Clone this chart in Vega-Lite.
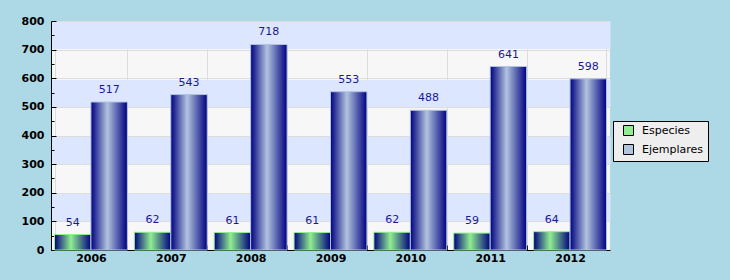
{
  "$schema": "https://vega.github.io/schema/vega-lite/v6.json",
  "width": 559,
  "height": 229,
  "autosize": {"type": "none"},
  "padding": {"left": 51, "top": 21, "right": 120, "bottom": 30},
  "background": "#add8e6",
  "config": {
    "font": "DejaVu Sans",
    "view": {"fill": "#f7f7f7", "stroke": null}
  },
  "data": {
    "values": [
      {"year": "2006", "series": "Especies", "value": 54},
      {"year": "2006", "series": "Ejemplares", "value": 517},
      {"year": "2007", "series": "Especies", "value": 62},
      {"year": "2007", "series": "Ejemplares", "value": 543},
      {"year": "2008", "series": "Especies", "value": 61},
      {"year": "2008", "series": "Ejemplares", "value": 718},
      {"year": "2009", "series": "Especies", "value": 61},
      {"year": "2009", "series": "Ejemplares", "value": 553},
      {"year": "2010", "series": "Especies", "value": 62},
      {"year": "2010", "series": "Ejemplares", "value": 488},
      {"year": "2011", "series": "Especies", "value": 59},
      {"year": "2011", "series": "Ejemplares", "value": 641},
      {"year": "2012", "series": "Especies", "value": 64},
      {"year": "2012", "series": "Ejemplares", "value": 598}
    ]
  },
  "encoding": {
    "x": {
      "field": "year",
      "type": "nominal",
      "title": null,
      "scale": {"paddingInner": 0.0875, "paddingOuter": 0.044},
      "axis": {
        "labelAngle": 0,
        "labelFont": "DejaVu Sans",
        "labelFontWeight": "bold",
        "labelFontSize": 11,
        "labelColor": "#000000",
        "labelPadding": 7,
        "tickBand": "extent",
        "tickSize": -5,
        "tickColor": "#000000",
        "domainColor": "#000000",
        "grid": true,
        "gridColor": "#dddddd"
      }
    },
    "xOffset": {
      "field": "series",
      "sort": ["Especies", "Ejemplares"],
      "scale": {"paddingInner": 0, "paddingOuter": 0}
    },
    "y": {
      "field": "value",
      "type": "quantitative",
      "title": null,
      "scale": {"domain": [0, 800], "nice": false},
      "axis": {
        "values": [0, 50, 100, 150, 200, 250, 300, 350, 400, 450, 500, 550, 600, 650, 700, 750, 800],
        "labelExpr": "datum.value % 100 === 0 ? datum.label : ''",
        "labelFont": "DejaVu Sans",
        "labelFontWeight": "bold",
        "labelFontSize": 11,
        "labelColor": "#000000",
        "labelPadding": 12,
        "tickSize": {"condition": {"test": "datum.value % 100 === 50", "value": -3}, "value": -5},
        "tickColor": "#000000",
        "domainColor": "#000000",
        "grid": true,
        "gridColor": {"condition": {"test": "datum.value % 200 === 150", "value": "#dde6ff"}, "value": "#dddddd"},
        "gridWidth": {"condition": [
          {"test": "datum.value % 200 === 150", "value": 27},
          {"test": "datum.value % 100 === 50", "value": 0}
        ], "value": 1}
      }
    }
  },
  "layer": [
    {
      "transform": [{"filter": "datum.series === 'Especies'"}],
      "mark": {
        "type": "bar",
        "stroke": "#90ee90",
        "strokeWidth": 1,
        "fill": {
          "gradient": "linear",
          "x1": 0, "x2": 1, "y1": 0, "y2": 0,
          "stops": [
            {"offset": 0, "color": "#000080"},
            {"offset": 0.45, "color": "#90ee90"},
            {"offset": 1, "color": "#000080"}
          ]
        }
      }
    },
    {
      "transform": [{"filter": "datum.series === 'Ejemplares'"}],
      "mark": {
        "type": "bar",
        "stroke": "#b0c4de",
        "strokeWidth": 1,
        "fill": {
          "gradient": "linear",
          "x1": 0, "x2": 1, "y1": 0, "y2": 0,
          "stops": [
            {"offset": 0, "color": "#000080"},
            {"offset": 0.45, "color": "#b0c4de"},
            {"offset": 1, "color": "#000080"}
          ]
        }
      }
    },
    {
      "mark": {"type": "text", "baseline": "alphabetic", "dy": -9, "fontSize": 11, "color": "#1a1a90", "font": "DejaVu Sans"},
      "encoding": {"text": {"field": "value", "type": "quantitative"}}
    },
    {
      "mark": {"type": "square", "opacity": 0, "size": 1},
      "encoding": {
        "fill": {
          "field": "series",
          "type": "nominal",
          "sort": ["Especies", "Ejemplares"],
          "scale": {"domain": ["Especies", "Ejemplares"], "range": ["#90ee90", "#b0c4de"]},
          "legend": {
            "title": null,
            "orient": "none",
            "legendX": 562,
            "legendY": 100,
            "fillColor": "#eeeeee",
            "strokeColor": "#000000",
            "padding": 4,
            "symbolType": "square",
            "symbolSize": 100,
            "symbolOpacity": 1,
            "symbolStrokeColor": "#000000",
            "symbolStrokeWidth": 1,
            "symbolOffset": 6,
            "labelOffset": 8,
            "labelFontSize": 11,
            "labelFont": "DejaVu Sans",
            "labelColor": "#000000",
            "rowPadding": 4
          }
        }
      }
    }
  ]
}
